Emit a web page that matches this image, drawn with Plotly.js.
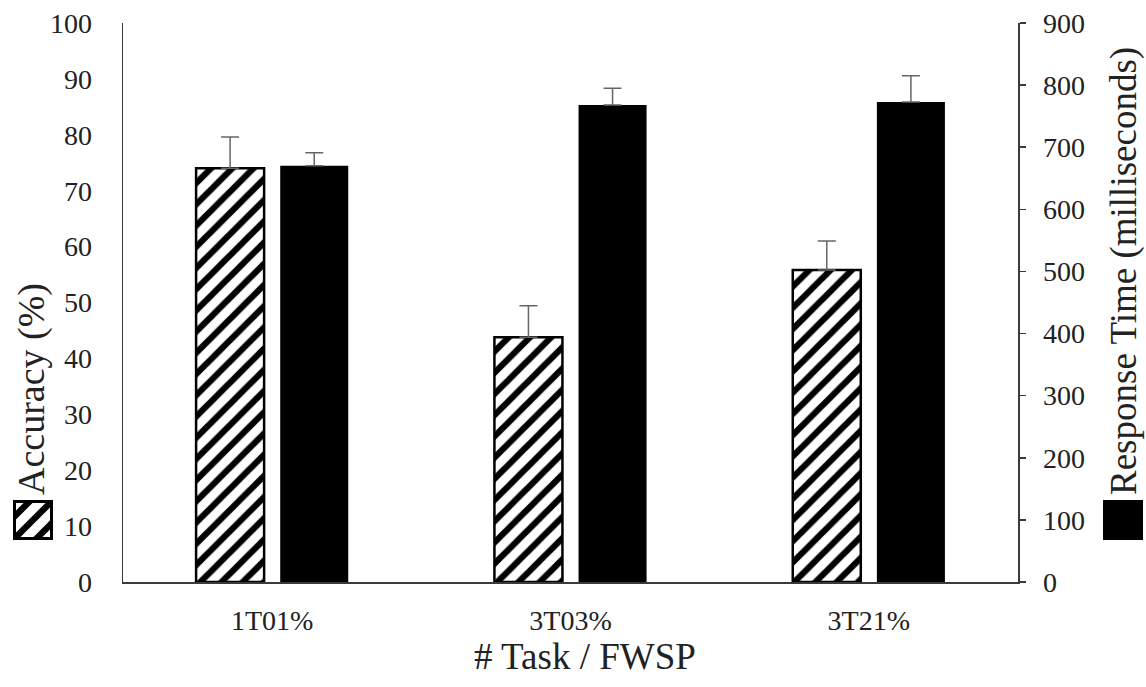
<!DOCTYPE html>
<html>
<head>
<meta charset="utf-8">
<script src="https://cdn.plot.ly/plotly-3.0.1.min.js"></script>
<style>
  html, body { margin: 0; padding: 0; background: #fff; }
  #chart { width: 1146px; height: 687px; }
</style>
</head>
<body>
<div id="chart"></div>
<script>
// Task conditions on the category axis
const categories = ['1T01%', '3T03%', '3T21%'];

// Accuracy (%) on the left axis, with upper error
const accuracy = [74.0, 43.8, 55.8];
const accuracyErr = [5.6, 5.6, 5.2];

// Response time (ms) on the right axis, with upper error
const responseTime = [670, 768, 773];
const responseTimeErr = [21, 27, 42];

const accTicks = [0, 10, 20, 30, 40, 50, 60, 70, 80, 90, 100];
const rtTicks = [0, 100, 200, 300, 400, 500, 600, 700, 800, 900];

// plot-area geometry in page pixels
const W = 1146, H = 687;
const L = 123, R = 1018, T = 23, B = 582;
const px2x = p => (p - L) / (R - L);
const px2y = p => (B - p) / (B - T);

const serif = 'Liberation Serif';
const inkColor = '#222';
const axisColor = '#3a3a3a';
const errColor = '#666';

const zeros = categories.map(() => 0);

const accTrace = {
  type: 'bar',
  name: 'Accuracy (%)',
  x: categories,
  y: accuracy,
  yaxis: 'y',
  offset: -0.255,
  width: 0.228,
  marker: {
    color: '#fff',
    line: { color: '#000', width: 2.5 },
    pattern: { shape: '/', fgcolor: '#000', bgcolor: '#fff', size: 15, solidity: 0.42 }
  },
  error_y: {
    type: 'data', symmetric: false, array: accuracyErr, arrayminus: zeros,
    color: errColor, thickness: 1.5, width: 9
  },
  showlegend: false,
  hoverinfo: 'skip'
};

const rtTrace = {
  type: 'bar',
  name: 'Response Time (milliseconds)',
  x: categories,
  y: responseTime,
  yaxis: 'y2',
  offset: 0.027,
  width: 0.228,
  marker: { color: '#000', line: { color: '#000', width: 0 } },
  error_y: {
    type: 'data', symmetric: false, array: responseTimeErr, arrayminus: zeros,
    color: errColor, thickness: 1.5, width: 9
  },
  showlegend: false,
  hoverinfo: 'skip'
};

// Sutherland-Hodgman clip of a polygon against half-plane f(p) >= 0 (f linear)
function clipHalf(poly, f) {
  const out = [];
  for (let i = 0; i < poly.length; i++) {
    const a = poly[i], b = poly[(i + 1) % poly.length];
    const fa = f(a), fb = f(b);
    if (fa >= 0) out.push(a);
    if ((fa >= 0) !== (fb >= 0)) {
      const t = fa / (fa - fb);
      out.push([a[0] + t * (b[0] - a[0]), a[1] + t * (b[1] - a[1])]);
    }
  }
  return out;
}

// legend swatches drawn next to the axis titles
function hatchSwatch(x0, y0, S) {
  const shapes = [];
  shapes.push({
    type: 'rect', xref: 'paper', yref: 'paper',
    x0: px2x(x0), x1: px2x(x0 + S), y0: px2y(y0 + S), y1: px2y(y0),
    fillcolor: '#fff', line: { width: 0 }
  });
  const centers = [S - 22, S, S + 22];
  const bw = 9;
  centers.forEach(c => {
    let poly = [[0, 0], [S, 0], [S, S], [0, S]];
    poly = clipHalf(poly, p => (p[0] + p[1]) - (c - bw / 2));
    poly = clipHalf(poly, p => (c + bw / 2) - (p[0] + p[1]));
    if (poly.length < 3) return;
    const d = poly.map((p, i) =>
      (i ? 'L' : 'M') + px2x(x0 + p[0]).toFixed(5) + ',' + px2y(y0 + p[1]).toFixed(5)).join(' ') + ' Z';
    shapes.push({ type: 'path', xref: 'paper', yref: 'paper', path: d,
                  fillcolor: '#000', line: { width: 0 } });
  });
  shapes.push({
    type: 'rect', xref: 'paper', yref: 'paper',
    x0: px2x(x0 + 1.5), x1: px2x(x0 + S - 1.5), y0: px2y(y0 + S - 1.5), y1: px2y(y0 + 1.5),
    fillcolor: 'rgba(0,0,0,0)', line: { color: '#000', width: 3 }
  });
  return shapes;
}

const shapes = hatchSwatch(13, 500, 40).concat([{
  type: 'rect', xref: 'paper', yref: 'paper',
  x0: px2x(1103), x1: px2x(1143), y0: px2y(540), y1: px2y(500),
  fillcolor: '#000', line: { width: 0 }
}]);

const axisCommon = {
  showgrid: false, zeroline: false, showline: true,
  linecolor: axisColor, linewidth: 1.5,
  tickfont: { family: serif, size: 28, color: inkColor },
  tickmode: 'array'
};

const layout = {
  width: W, height: H,
  margin: { l: L, r: W - R, t: T, b: H - B, pad: 0 },
  paper_bgcolor: '#fff', plot_bgcolor: '#fff',
  font: { family: serif, color: inkColor },
  barmode: 'group',
  showlegend: false,
  xaxis: {
    type: 'category', range: [-0.5, 2.5],
    showgrid: false, zeroline: false, showline: true,
    linecolor: axisColor, linewidth: 1.5, ticks: '',
    ticklabelstandoff: 13,
    tickfont: { family: serif, size: 28, color: inkColor }
  },
  yaxis: Object.assign({}, axisCommon, {
    range: [0, 100], tickvals: accTicks, ticktext: accTicks.map(String),
    ticks: '', ticklabelstandoff: 24
  }),
  yaxis2: Object.assign({}, axisCommon, {
    range: [0, 900], tickvals: rtTicks, ticktext: rtTicks.map(String),
    overlaying: 'y', side: 'right',
    ticks: 'outside', ticklen: 6, tickwidth: 1.5, tickcolor: axisColor,
    ticklabelstandoff: 12
  }),
  shapes: shapes,
  annotations: [
    {
      text: 'Accuracy (%)', textangle: -90, showarrow: false,
      xref: 'paper', yref: 'paper', x: px2x(31), y: px2y(497),
      xanchor: 'center', yanchor: 'bottom',
      font: { family: serif, size: 38, color: inkColor }
    },
    {
      text: 'Response Time (milliseconds)', textangle: -90, showarrow: false,
      xref: 'paper', yref: 'paper', x: px2x(1124), y: px2y(497),
      xanchor: 'center', yanchor: 'bottom',
      font: { family: serif, size: 37, color: inkColor }
    },
    {
      text: '# Task / FWSP', showarrow: false,
      xref: 'paper', yref: 'paper', x: px2x(585), y: px2y(656),
      xanchor: 'center', yanchor: 'middle',
      font: { family: serif, size: 37, color: inkColor }
    }
  ]
};

Plotly.newPlot('chart', [accTrace, rtTrace], layout, { staticPlot: true, displayModeBar: false });
</script>
</body>
</html>
